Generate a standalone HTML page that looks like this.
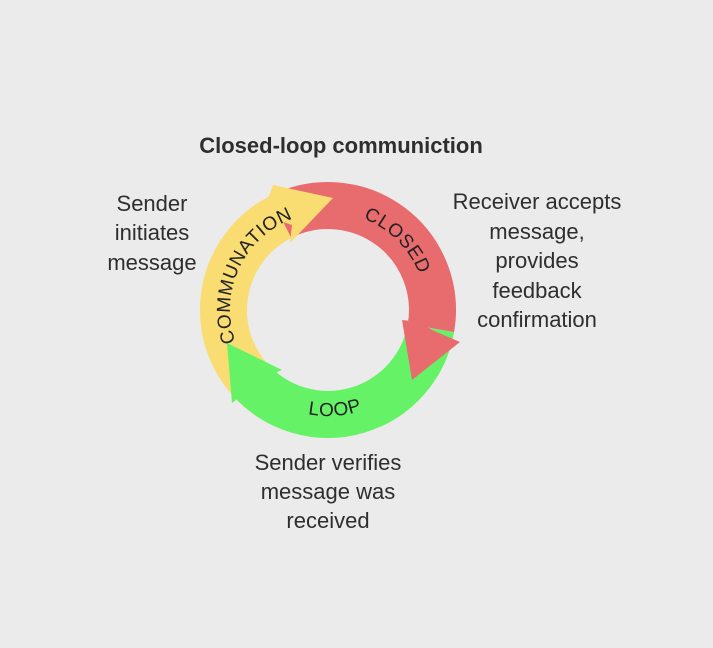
<!DOCTYPE html>
<html><head><meta charset="utf-8"><style>
html,body{margin:0;padding:0;background:#ebebeb;}
svg{display:block}
</style></head><body>
<svg width="713" height="648" viewBox="0 0 713 648" xmlns="http://www.w3.org/2000/svg">
<rect width="713" height="648" fill="#ebebeb"/>
<g fill="none" stroke-width="47">
<path d="M268.0,395.6 A104.5,104.5 0 0 1 280.6,216.9" stroke="#f9dc72"/>
<path d="M280.6,216.9 A104.5,104.5 0 0 1 430.9,328.1" stroke="#e86b6e"/>
<path d="M430.9,328.1 A104.5,104.5 0 0 1 250.4,379.9" stroke="#66f267"/>
</g>
<polygon points="273,185 333,198 290,243 292,225 262,215" fill="#f9dc72"/>
<polygon points="460,342 412,380 402,320 420,322 432,330" fill="#e86b6e"/>
<polygon points="227,343 282,370 262,378 232,403" fill="#66f267"/>
<defs>
<path id="p1" d="M258.7,379.3 A98,98 0 0 1 336.5,212.4"/>
<path id="p2" d="M302.6,215.3 A98,98 0 0 1 422.7,335.4"/>
<path id="p3" d="M240.1,369.3 A106,106 0 0 0 423.3,356.5"/>
</defs>
<g font-family="Liberation Sans, sans-serif" font-size="19" fill="#222" letter-spacing="0.6">
<text><textPath href="#p1" startOffset="50%" text-anchor="middle">COMMUNATION</textPath></text>
<text><textPath href="#p2" startOffset="50%" text-anchor="middle">CLOSED</textPath></text>
<text><textPath href="#p3" startOffset="50%" text-anchor="middle">LOOP</textPath></text>
</g>
<g font-family="Liberation Sans, sans-serif" fill="#2e2e2e" font-size="22" text-anchor="middle">
<text x="341" y="153" font-weight="bold" font-size="22">Closed-loop communiction</text>
<text x="152" y="211">Sender</text>
<text x="152" y="240">initiates</text>
<text x="152" y="270">message</text>
<text x="537" y="209">Receiver accepts</text>
<text x="537" y="239">message,</text>
<text x="537" y="268">provides</text>
<text x="537" y="298">feedback</text>
<text x="537" y="327">confirmation</text>
<text x="328" y="470">Sender verifies</text>
<text x="328" y="499">message was</text>
<text x="328" y="528">received</text>
</g>
</svg>
</body></html>
